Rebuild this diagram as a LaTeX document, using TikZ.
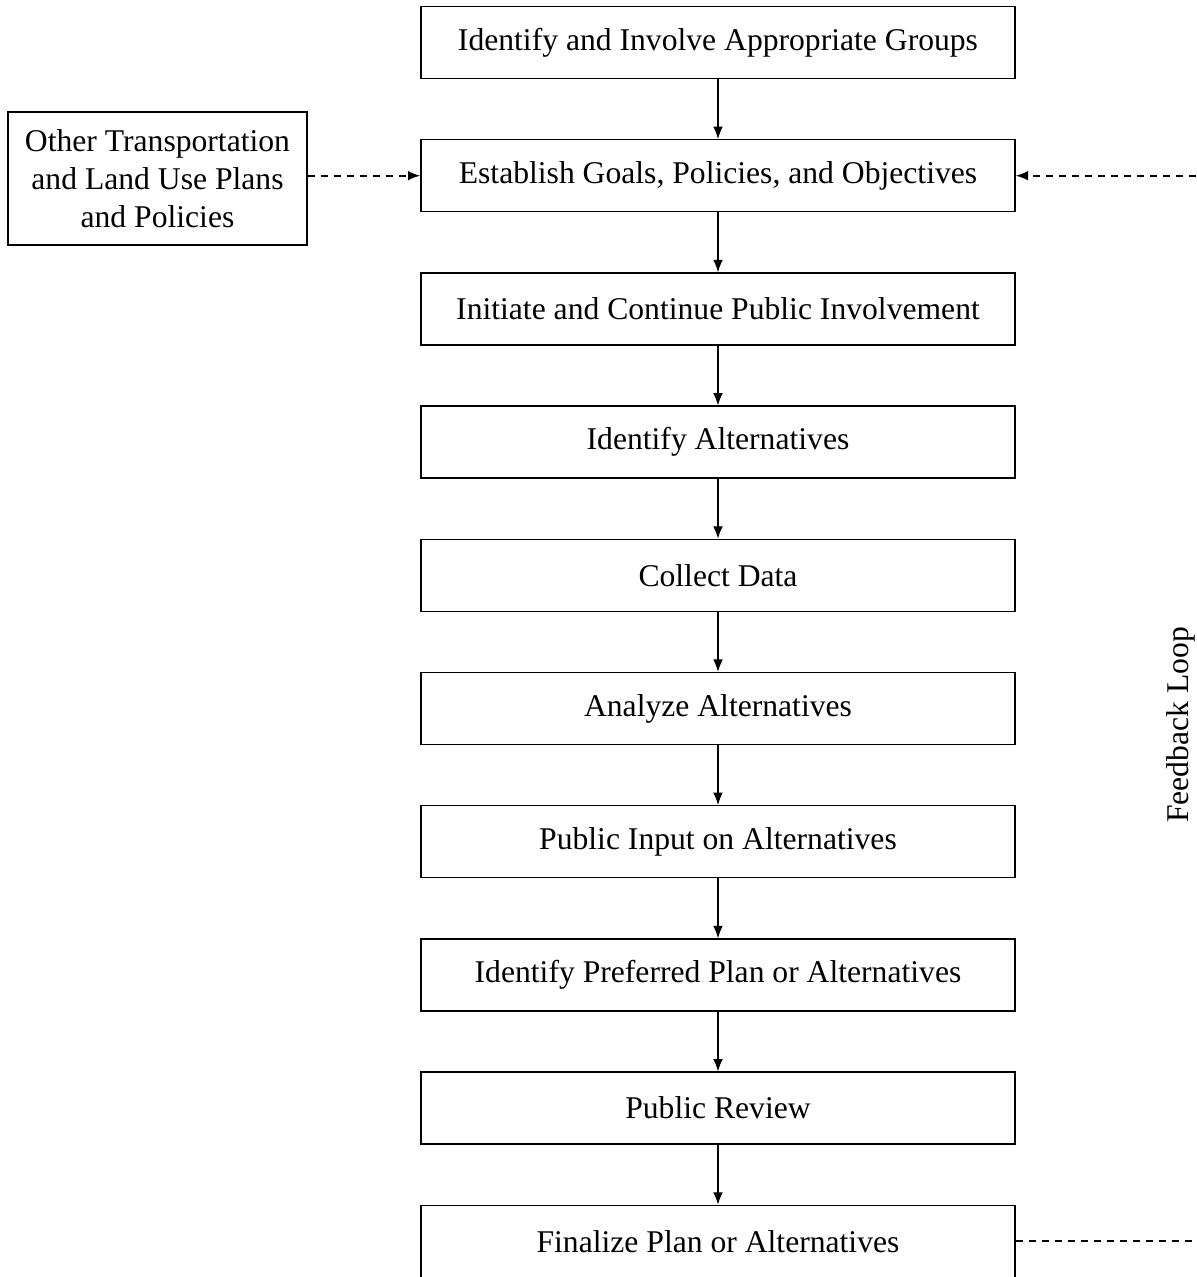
\documentclass[tikz,border=0pt]{standalone}
\usepackage{fontspec}
\setmainfont{Liberation Serif}
\usetikzlibrary{arrows.meta}

\tikzset{
    stage/.style={draw, line width=0.8pt, minimum width=11.88cm, minimum height=1.44cm, inner sep=0pt, align=center},
    sidebox/.style={draw, line width=0.8pt, minimum width=5.98cm, minimum height=2.66cm, inner sep=0pt, align=center},
    flow/.style={-{Latex[length=7pt, width=5.5pt]}, line width=0.6pt},
    loopline/.style={line width=1pt, dash pattern=on 4pt off 3.4pt}
}

\begin{document}
\begin{tikzpicture}[font=\fontsize{18}{21.5}\selectfont]

        \useasboundingbox (0,0) rectangle (23.92,25.54);

        % Main column of boxes
        \node[stage] (groups)   at (14.36,24.69) {Identify and Involve Appropriate Groups};
        \node[stage] (goals)    at (14.36,22.026) {Establish Goals, Policies, and Objectives};
        \node[stage] (public)   at (14.36,19.362) {Initiate and Continue Public Involvement};
        \node[stage] (altern)   at (14.36,16.698) {Identify Alternatives};
        \node[stage] (data)     at (14.36,14.034) {Collect Data};
        \node[stage] (analyze)  at (14.36,11.37) {Analyze Alternatives};
        \node[stage] (input)    at (14.36,8.706) {Public Input on Alternatives};
        \node[stage] (prefer)   at (14.36,6.042) {Identify Preferred Plan or Alternatives};
        \node[stage] (review)   at (14.36,3.378) {Public Review};
        \node[stage] (final)    at (14.36,0.714) {Finalize Plan or Alternatives};

        % Side box on the left
        \node[sidebox] (other) at (3.15,21.97) {Other Transportation\\and Land Use Plans\\and Policies};

        % Arrows down the column
        \draw[flow] (groups) -- (goals);
        \draw[flow] (goals) -- (public);
        \draw[flow] (public) -- (altern);
        \draw[flow] (altern) -- (data);
        \draw[flow] (data) -- (analyze);
        \draw[flow] (analyze) -- (input);
        \draw[flow] (input) -- (prefer);
        \draw[flow] (prefer) -- (review);
        \draw[flow] (review) -- (final);

        % Dashed input from the left
        \draw[flow, loopline] (other.east |- goals.west) -- (goals.west);

        % Feedback loop on the right
        \coordinate (edge) at (23.92,0);
        \draw[loopline] (final.east) -- (final.east -| edge);
        \draw[flow, loopline] (goals.east -| edge) -- (goals.east);
        \node[rotate=90] (fblabel) at (23.62,11.04) {Feedback Loop};

    \end{tikzpicture}
\end{document}
